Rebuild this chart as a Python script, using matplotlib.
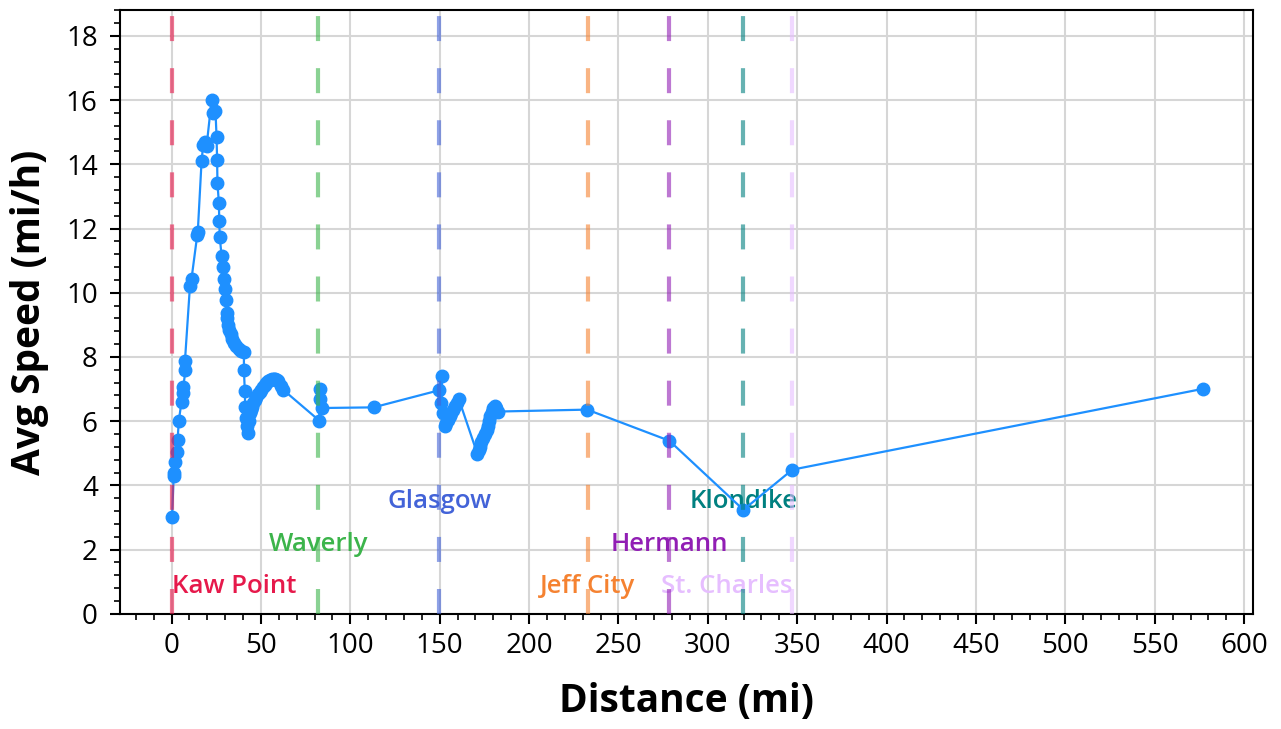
import matplotlib
matplotlib.use("Agg")
import matplotlib.pyplot as plt
from matplotlib.ticker import MultipleLocator, AutoMinorLocator

plt.rcParams['font.family'] = ['Open Sans', 'DejaVu Sans']

# distance (mi) and average speed (mi/h)
distance = [0.3, 1.2, 1.5, 2.2, 2.8, 3.4, 4.1, 5.6, 6.4, 6.6, 7.8, 7.5,
            10.3, 11.2, 14.4, 14.7, 16.8, 17.7, 18.6, 19.6, 22.4, 23.3, 24.6,
            25.2, 25.5, 25.7, 26.5, 26.7, 27.0, 28.0, 28.9, 29.5, 29.8, 30.4,
            30.8, 31.2, 31.6, 32.2, 33.0, 34.0, 35.0, 36.0, 37.5, 39.0,
            40.5, 40.5, 41.0, 41.2, 41.6, 42.2, 42.8,
            43.3, 43.8, 44.4, 45.0, 45.8, 46.6, 47.5, 48.5, 49.4, 50.3, 51.2,
            52.2, 53.1, 54.0, 55.2, 56.3, 57.2, 58.0, 58.8, 59.6, 61.0, 62.4,
            82.6, 83.0, 83.2, 83.9, 113.0,
            149.5, 151.4, 151.0, 152.0, 152.9, 153.8, 154.7, 155.6, 156.6,
            157.5, 158.4, 159.5, 160.7,
            171.1, 171.8, 172.4, 173.3, 174.2, 175.2, 176.2, 176.8, 177.5,
            178.2, 179.0, 179.9, 180.8, 181.7, 182.6,
            232.5, 278.5, 319.9, 347.3, 577.2]
speed = [3.0, 4.28, 4.4, 4.74, 5.04, 5.42, 6.02, 6.61, 6.87, 7.08, 7.58, 7.86,
         10.2, 10.44, 11.8, 11.9, 14.09, 14.6, 14.7, 14.56, 15.99, 15.6, 15.65,
         14.85, 14.14, 13.42, 12.79, 12.24, 11.73, 11.15, 10.79, 10.43, 10.12, 9.78,
         9.37, 9.2, 9.0, 8.85, 8.7, 8.55, 8.45, 8.35, 8.25, 8.2,
         8.17, 7.6, 6.93, 6.43, 6.1, 5.84, 5.63,
         6.0, 6.25, 6.36, 6.45, 6.56, 6.67, 6.76, 6.85, 6.92, 6.98, 7.05,
         7.12, 7.18, 7.24, 7.29, 7.32, 7.32, 7.3, 7.27, 7.24, 7.1, 6.98,
         6.02, 7.0, 6.69, 6.41, 6.43,
         6.96, 7.42, 6.56, 6.25, 5.84, 5.94, 6.04, 6.15, 6.25,
         6.36, 6.46, 6.58, 6.69,
         4.98, 5.1, 5.21, 5.34, 5.47, 5.6, 5.73, 5.86, 5.99,
         6.15, 6.30, 6.40, 6.46, 6.40, 6.30,
         6.36, 5.39, 3.24, 4.49, 7.01]

towns = ['Kaw Point', 'Waverly', 'Glasgow', 'Jeff City', 'Hermann', 'Klondike', 'St. Charles']
town_mile = [0, 82.2, 149.9, 232.7, 278.5, 319.9, 347.3]
town_color = ['#e6194b', '#3cb44b', '#4363d8', '#f58231', '#911eb4', '#008080', '#e6beff']
label_y = [0.85, 2.15, 3.5, 0.85, 2.15, 3.5, 0.85]
label_ha = ['left', 'center', 'center', 'center', 'center', 'center', 'right']

fig = plt.figure(figsize=(12.81, 7.29), dpi=100)
ax = fig.add_axes([0.0937, 0.158, 0.8845, 0.828])

ax.plot(distance, speed, color='#1e90ff', lw=1.6, marker='o', ms=9, zorder=3)

for name, m, c, ty, ha in zip(towns, town_mile, town_color, label_y, label_ha):
    ax.axvline(m, color=c, lw=3, alpha=0.6, dashes=(6, 6.5), zorder=4)
    ax.text(m, ty, name, color=c, fontsize=18.5, fontweight='semibold', ha=ha,
            va='center', zorder=2)

ax.set_xlim(-28.8, 605)
ax.set_ylim(0, 18.8)
ax.xaxis.set_major_locator(MultipleLocator(50))
ax.yaxis.set_major_locator(MultipleLocator(2))
ax.xaxis.set_minor_locator(AutoMinorLocator(5))
ax.yaxis.set_minor_locator(AutoMinorLocator(5))
ax.grid(True, which='major', color='#d6d6d6', lw=1.5, zorder=0)
ax.set_axisbelow(True)

ax.tick_params(which='major', direction='out', length=7, width=1.5, labelsize=20, pad=6)
ax.tick_params(axis='y', which='major', pad=9)
ax.tick_params(which='minor', direction='out', length=4, width=1.2)
for s in ax.spines.values():
    s.set_linewidth(1.5)

ax.set_xlabel('Distance (mi)', fontsize=28, fontweight='bold', labelpad=16)
ax.set_ylabel('Avg Speed (mi/h)', fontsize=28, fontweight='bold', labelpad=12)

fig.savefig('out.png', dpi=100)
